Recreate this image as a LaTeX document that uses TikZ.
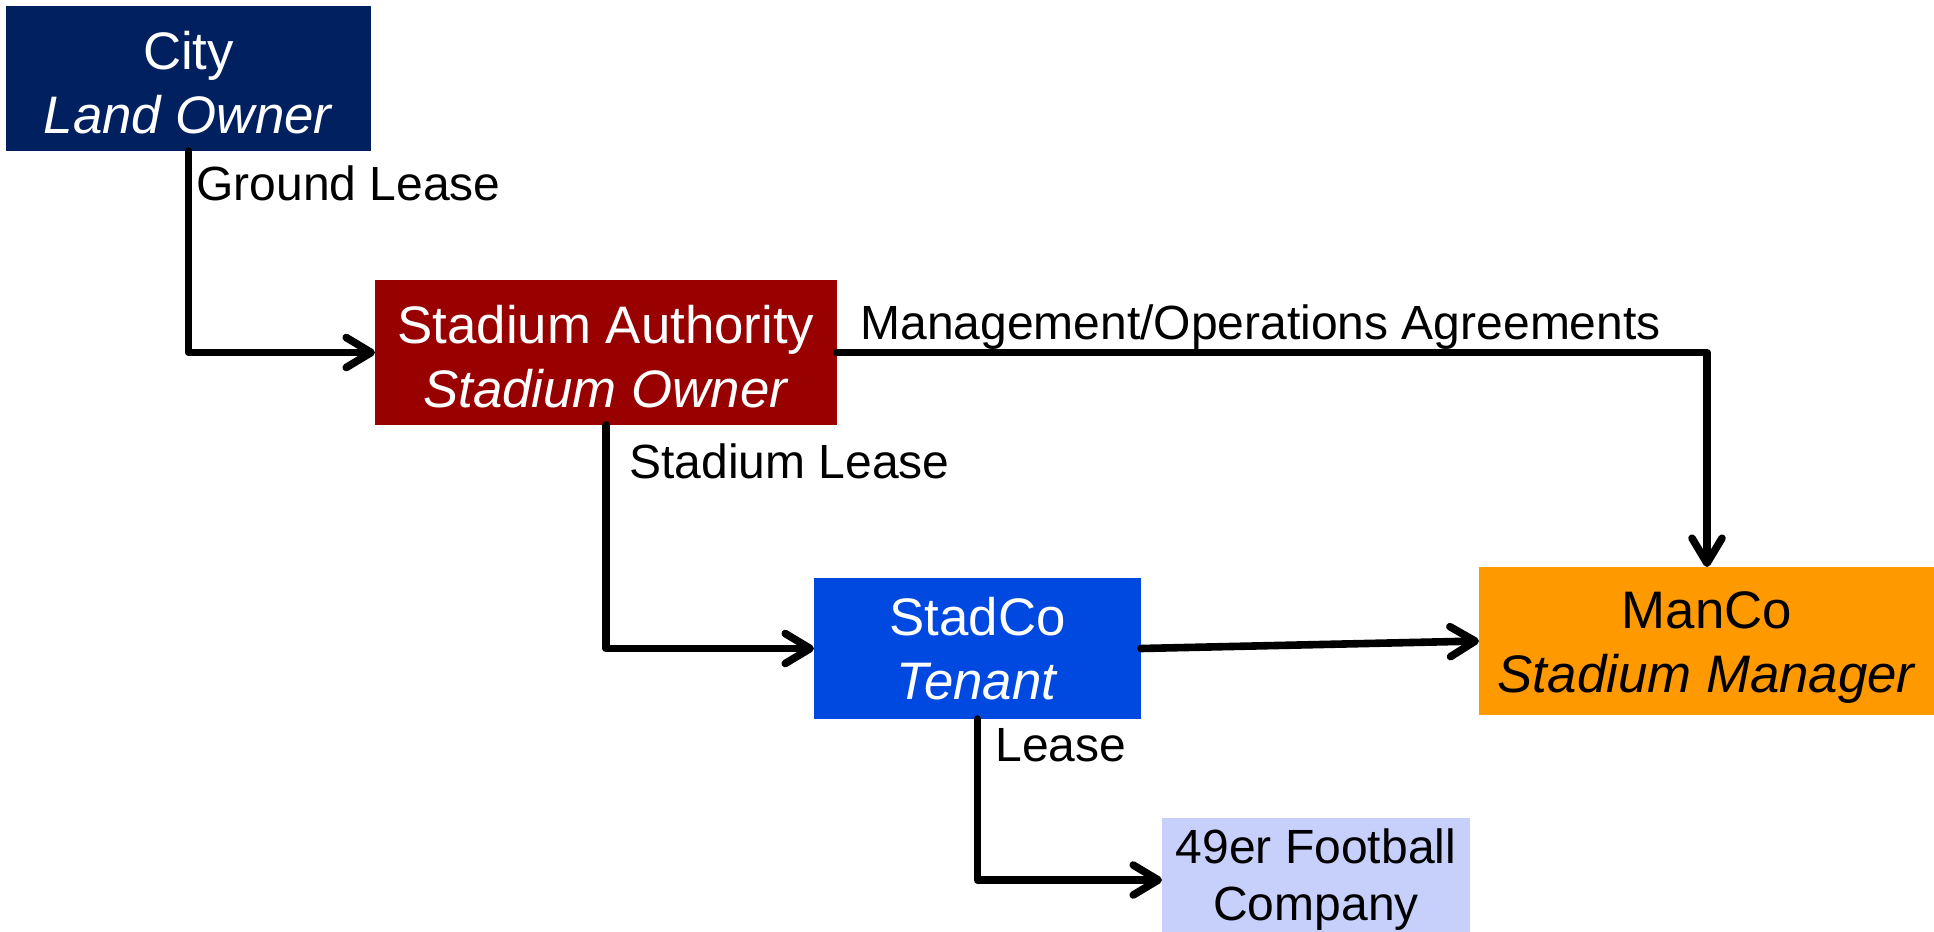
\documentclass[tikz,border=0pt]{standalone}
\usepackage{fontspec}
\setmainfont{Liberation Sans}
\usetikzlibrary{arrows.meta}
\definecolor{citycol}{HTML}{002060}
\definecolor{sacol}{HTML}{990000}
\definecolor{stadcol}{HTML}{0049E0}
\definecolor{mancol}{HTML}{FF9900}
\definecolor{fbcol}{HTML}{C6D0FA}
\newcommand{\toppad}[1]{\rule{0pt}{#1}}
\begin{document}
\begin{tikzpicture}[x=0.5pt,y=-0.5pt,
  box/.style={rectangle, inner sep=0pt, outer sep=0pt, anchor=north west, align=center,
    font=\fontsize{26.4}{32}\selectfont},
  smallbox/.style={box, font=\fontsize{24}{28.5}\selectfont},
  lbl/.style={inner sep=0pt, anchor=base west, font=\fontsize{24}{28.5}\selectfont},
  conn/.style={line width=3.8pt, line join=round, line cap=round,
    -{Straight Barb[length=12.5pt,width=15pt,line cap=round,line join=round]}}]
\useasboundingbox (0,0) rectangle (1934,932);
\node[box, fill=citycol, text=white, minimum width=182.5pt, minimum height=72.5pt] (city) at (6,6) {\toppad{23pt}City\\\textit{Land Owner}};
\node[box, fill=sacol, text=white, minimum width=231pt, minimum height=72.5pt] (sa) at (375,280) {\toppad{23pt}Stadium Authority\\\textit{Stadium Owner}};
\node[box, fill=stadcol, text=white, minimum width=163.5pt, minimum height=70.5pt] (stadco) at (814,578) {StadCo\\\textit{Tenant}};
\node[box, fill=mancol, text=black, minimum width=228pt, minimum height=74pt] (manco) at (1479,567) {\toppad{25pt}ManCo\\\textit{Stadium Manager}};
\node[smallbox, fill=fbcol, text=black, minimum width=154pt, minimum height=62pt] (fb) at (1162,818) {49er Football\\Company};
\draw[conn] (city.south) |- (sa.west);
\draw[conn] (sa.east) -| (manco.north);
\draw[conn] (sa.south) |- (stadco.west);
\draw[conn] (stadco.east) -- (manco.west);
\draw[conn] (stadco.south) |- (fb.west);
\node[lbl] (l1) at (196,200) {Ground Lease};
\node[lbl] (l2) at (860,339) {Management/Operations Agreements};
\node[lbl] (l3) at (629,478) {Stadium Lease};
\node[lbl] (l4) at (995,761) {Lease};
\end{tikzpicture}
\end{document}
